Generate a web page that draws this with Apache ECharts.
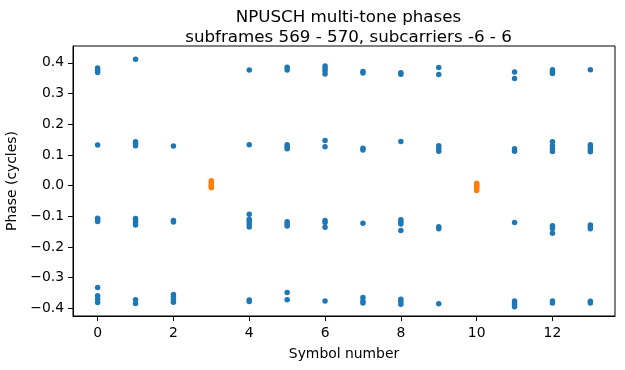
<!DOCTYPE html>
<html>
<head>
<meta charset="utf-8">
<script src="https://cdn.jsdelivr.net/npm/echarts@6/dist/echarts.min.js"></script>
<style>html,body{margin:0;padding:0;background:#fff;}#c{width:625px;height:370px;}</style>
</head>
<body>
<div id="c"></div>
<script>
// Symbol numbers and phases (cycles)
const sym0 = [0.383, 0.376, 0.369, 0.132, -0.106, -0.111, -0.117, -0.332, -0.359, -0.37, -0.381];
const sym1 = [0.412, 0.143, 0.137, 0.13, -0.107, -0.115, -0.122, -0.128, -0.372, -0.384];
const sym2 = [0.129, -0.114, -0.119, -0.355, -0.363, -0.372, -0.38];
const sym4 = [0.377, 0.133, -0.093, -0.11, -0.117, -0.125, -0.135, -0.373, -0.378];
const sym5 = [0.386, 0.377, 0.133, 0.126, 0.12, -0.118, -0.125, -0.132, -0.348, -0.372];
const sym6 = [0.39, 0.382, 0.374, 0.364, 0.147, 0.127, -0.114, -0.12, -0.136, -0.376];
const sym7 = [0.372, 0.367, 0.122, 0.116, -0.123, -0.365, -0.376, -0.383];
const sym8 = [0.368, 0.363, 0.144, -0.111, -0.118, -0.125, -0.146, -0.37, -0.378, -0.387];
const sym9 = [0.385, 0.362, 0.13, 0.121, 0.112, -0.134, -0.141, -0.385];
const sym11 = [0.37, 0.349, 0.12, 0.112, -0.12, -0.376, -0.382, -0.388, -0.395];
const sym12 = [0.378, 0.371, 0.365, 0.143, 0.13, 0.12, 0.111, -0.131, -0.14, -0.155, -0.376, -0.383];
const sym13 = [0.378, 0.133, 0.125, 0.116, 0.11, -0.128, -0.135, -0.141, -0.377, -0.383];
const sym3 = [0.016, 0.011, 0.006, 0.001, -0.004, -0.007];
const sym10 = [0.008, 0.004, 0.0, -0.005, -0.01, -0.016];

const blueGroups = [[0, sym0], [1, sym1], [2, sym2], [4, sym4], [5, sym5], [6, sym6], [7, sym7],
                    [8, sym8], [9, sym9], [11, sym11], [12, sym12], [13, sym13]];
const orangeGroups = [[3, sym3], [10, sym10]];

const xTicks = [0, 2, 4, 6, 8, 10, 12];
const yTicks = [-0.4, -0.3, -0.2, -0.1, 0.0, 0.1, 0.2, 0.3, 0.4];

function toPoints(groups) {
  const out = [];
  groups.forEach(([x, ys]) => ys.forEach(y => out.push([x, y])));
  return out;
}
const font = 'DejaVu Sans';
const fmt = v => v.toFixed(1).replace('-', '\u2212');

const chart = echarts.init(document.getElementById('c'), null, {renderer: 'canvas'});
chart.setOption({
  animation: false,
  backgroundColor: '#fff',
  title: {
    text: 'NPUSCH multi-tone phases\nsubframes 569 - 570, subcarriers -6 - 6',
    left: 343.5, top: 3, textAlign: 'center',
    textStyle: {fontFamily: font, fontSize: 16.7, fontWeight: 'normal', color: '#000', lineHeight: 19.5}
  },
  grid: {left: 73, right: 10, top: 46, bottom: 54, outerBoundsMode: 'none', containLabel: false,
         show: true, borderColor: '#000', borderWidth: 1, backgroundColor: 'transparent'},
  xAxis: {
    type: 'value', min: -0.65, max: 13.65,
    name: 'Symbol number', nameLocation: 'middle', nameGap: 31,
    nameTextStyle: {fontFamily: font, fontSize: 13.9, color: '#000'},
    axisLine: {show: true, onZero: false, lineStyle: {color: '#000', width: 1}},
    axisTick: {show: true, inside: false, length: 5, customValues: xTicks, lineStyle: {color: '#000'}},
    axisLabel: {fontFamily: font, fontSize: 13.9, color: '#000', margin: 10, customValues: xTicks,
                formatter: v => String(v)},
    splitLine: {show: false}
  },
  yAxis: {
    type: 'value', min: -0.425, max: 0.455,
    name: 'Phase (cycles)', nameLocation: 'middle', nameGap: 47,
    nameTextStyle: {fontFamily: font, fontSize: 13.9, color: '#000'},
    axisLine: {show: true, onZero: false, lineStyle: {color: '#000', width: 1}},
    axisTick: {show: true, inside: false, length: 5, customValues: yTicks, lineStyle: {color: '#000'}},
    axisLabel: {fontFamily: font, fontSize: 13.9, color: '#000', margin: 9, customValues: yTicks,
                formatter: v => fmt(v)},
    splitLine: {show: false}
  },
  series: [
    {type: 'scatter', data: toPoints(blueGroups), symbolSize: 5.5, itemStyle: {color: '#1f77b4', opacity: 1}},
    {type: 'scatter', data: toPoints(orangeGroups), symbolSize: 5.5, itemStyle: {color: '#ff7f0e', opacity: 1}}
  ]
});
</script>
</body>
</html>
